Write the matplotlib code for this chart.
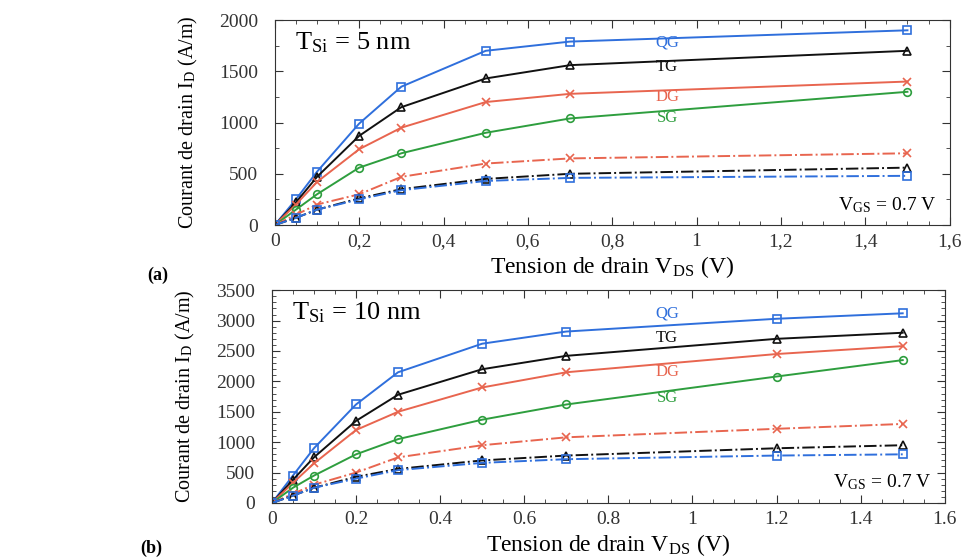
import matplotlib
matplotlib.use("Agg")
import matplotlib.pyplot as plt
from matplotlib.ticker import MultipleLocator, FuncFormatter

plt.rcParams["font.family"] = ["Liberation Serif", "DejaVu Serif"]
plt.rcParams["mathtext.fontset"] = "stix"

# ── data: TSi = 5 nm ────────────────────────────────────────────
vds_a = [0, 0.05, 0.1, 0.2, 0.3, 0.5, 0.7, 1.5]
qg_a = [0, 250, 520, 990, 1350, 1700, 1790, 1900]
tg_a = [0, 220, 470, 870, 1150, 1430, 1560, 1700]
dg_a = [0, 200, 420, 740, 950, 1200, 1280, 1400]
sg_a = [0, 150, 300, 560, 700, 900, 1040, 1300]
dg_a_lo = [0, 100, 200, 300, 470, 600, 650, 700]
tg_a_lo = [0, 70, 150, 260, 350, 450, 500, 560]
qg_a_lo = [0, 70, 150, 250, 340, 430, 460, 480]

# ── data: TSi = 10 nm ───────────────────────────────────────────
vds_b = [0, 0.05, 0.1, 0.2, 0.3, 0.5, 0.7, 1.2, 1.5]
qg_b = [0, 450, 900, 1620, 2150, 2620, 2820, 3030, 3120]
tg_b = [0, 380, 750, 1350, 1780, 2200, 2420, 2700, 2800]
dg_b = [0, 330, 650, 1200, 1500, 1900, 2150, 2450, 2580]
sg_b = [0, 250, 450, 800, 1050, 1370, 1620, 2080, 2350]
dg_b_lo = [0, 150, 300, 500, 750, 950, 1080, 1220, 1300]
tg_b_lo = [0, 120, 250, 430, 560, 700, 780, 900, 950]
qg_b_lo = [0, 120, 250, 400, 540, 660, 720, 780, 800]

gate_labels = ["QG", "TG", "DG", "SG"]
label_y_a = [1785, 1540, 1250, 1040]
label_y_b = [3120, 2710, 2150, 1725]

BLUE, BLACK, RED, GREEN = "#2f6fdc", "#111111", "#e8654f", "#2e9e3e"


def draw_panel(ax, x, series, ymax, ymajor, yminor, comma, tsi):
    for y, color, marker, ls in series:
        ax.plot(x, y, color=color, ls=ls, lw=1.4, marker=marker, ms=5.5,
                mfc="none", mew=1.2)
    ax.set_xlim(0, 1.6)
    ax.set_ylim(0, ymax)
    ax.xaxis.set_major_locator(MultipleLocator(0.2))
    ax.xaxis.set_minor_locator(MultipleLocator(0.05))
    ax.yaxis.set_major_locator(MultipleLocator(ymajor))
    ax.yaxis.set_minor_locator(MultipleLocator(yminor))
    fmt = (lambda v, p: f"{v:g}".replace(".", ",")) if comma else (lambda v, p: f"{v:g}")
    ax.xaxis.set_major_formatter(FuncFormatter(fmt))
    ax.tick_params(which="both", direction="in", top=True, right=True,
                   labelsize=14, colors="#333333")
    ax.tick_params(axis="y", pad=12)
    ax.tick_params(axis="x", pad=6)
    ax.tick_params(which="major", length=6)
    ax.tick_params(which="minor", length=3)
    for s in ax.spines.values():
        s.set_color("#333333")
    ax.set_xlabel(r"Tension de drain V$_{\mathregular{DS}}$ (V)", fontsize=17, labelpad=3)
    ax.set_ylabel(r"Courant de drain I$_{\mathregular{D}}$ (A/m)", fontsize=14.5, labelpad=14)
    ax.text(0.03, 0.95, r"T$_{\mathregular{Si}}$ = " + tsi, transform=ax.transAxes,
            fontsize=19, va="top", ha="left")
    ax.text(0.98, 0.05, r"V$_{\mathregular{GS}}$ = 0.7 V",
            transform=ax.transAxes, fontsize=14, va="bottom", ha="right")


def gate_tags(ax, xpos, ys):
    for name, y, c in zip(gate_labels, ys, [BLUE, BLACK, RED, GREEN]):
        ax.text(xpos, y, name, color=c, fontsize=12, ha="center", va="center")


fig = plt.figure(figsize=(9.78, 5.57), dpi=100)
ax1 = fig.add_axes([0.281, 0.596, 0.690, 0.368])
ax2 = fig.add_axes([0.278, 0.097, 0.688, 0.382])

draw_panel(ax1, vds_a, [
    (qg_a, BLUE, "s", "-"), (tg_a, BLACK, "^", "-"),
    (dg_a, RED, "x", "-"), (sg_a, GREEN, "o", "-"),
    (dg_a_lo, RED, "x", "-."), (tg_a_lo, BLACK, "^", "-."),
    (qg_a_lo, BLUE, "s", "-."),
], 2000, 500, 250, True, "5 nm")
gate_tags(ax1, 0.93, label_y_a)

draw_panel(ax2, vds_b, [
    (qg_b, BLUE, "s", "-"), (tg_b, BLACK, "^", "-"),
    (dg_b, RED, "x", "-"), (sg_b, GREEN, "o", "-"),
    (dg_b_lo, RED, "x", "-."), (tg_b_lo, BLACK, "^", "-."),
    (qg_b_lo, BLUE, "s", "-."),
], 3500, 500, 100, False, "10 nm")
gate_tags(ax2, 0.94, label_y_b)

fig.text(0.151, 0.505, "(a)", fontsize=13, fontweight="bold", ha="left", va="center")
fig.text(0.143, 0.016, "(b)", fontsize=13, fontweight="bold", ha="left", va="center")

fig.savefig("out.png", dpi=100)
